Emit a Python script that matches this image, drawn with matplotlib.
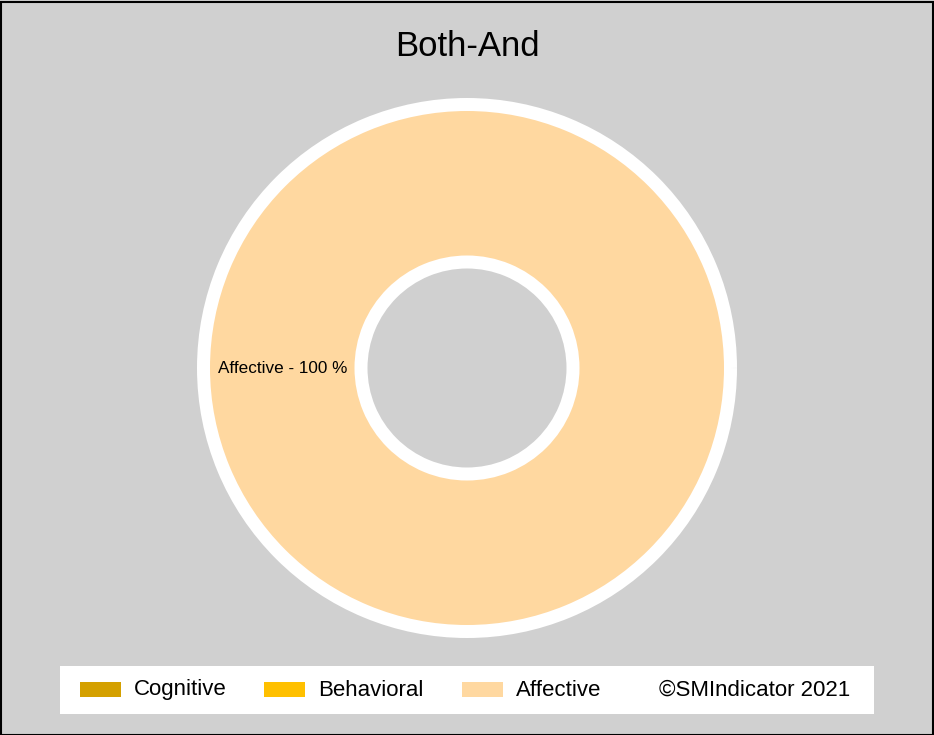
import numpy as np
import matplotlib.pyplot as plt
from matplotlib.patches import Rectangle

# datos del grafico
categorias = ["Cognitive", "Behavioral", "Affective"]
valores = [0, 0, 100]
colores = ["#D4A000", "#FFC000", "#FFD8A0"]
titulo = "Both-And"
copyright_txt = "\u00a9SMIndicator 2021"

plt.rcParams['font.family'] = ['Liberation Sans', 'DejaVu Sans']

W, H = 934, 735
fig = plt.figure(figsize=(W / 100, H / 100), dpi=100, facecolor="#D0D0D0")
ax = fig.add_axes([0, 0, 1, 1])

# solo las porciones con valor > 0
datos = [(c, v, col) for c, v, col in zip(categorias, valores, colores) if v > 0]
total = sum(v for _, v, _ in datos)

cx, cy = 467, 368
r_ext, r_int = 263.5, 106
lw_px = 13
wedges, _ = ax.pie([v for _, v, _ in datos], colors=[col for _, _, col in datos],
                   radius=r_ext, center=(cx, cy), startangle=0,
                   wedgeprops=dict(width=r_ext - r_int, edgecolor="white",
                                   linewidth=lw_px * 72 / 100))

# etiquetas en el centro del anillo
ang = 0
r_mid = (r_ext + r_int) / 2
for c, v, _ in datos:
    frac = v / total * 360
    a = np.deg2rad(ang + frac / 2)
    ax.text(cx + r_mid * np.cos(a), cy - r_mid * np.sin(a),
            f"{c} - {v / total * 100:.0f} %", ha="center", va="center", fontsize=12.3)
    ang += frac

ax.set_xlim(0, W)
ax.set_ylim(H, 0)
ax.set_aspect("equal")
ax.axis("off")

fig.text(0.5, 1 - 47 / H, titulo, ha="center", va="center", fontsize=25, color="black")

# leyenda manual
ax.add_patch(Rectangle((60, 666), 814, 48, facecolor="white", edgecolor="none", zorder=1))
xs_patch = [80, 264, 462]
for x, c, col in zip(xs_patch, categorias, colores):
    ax.add_patch(Rectangle((x, 682), 41, 15, facecolor=col, edgecolor="none", zorder=2))
    ax.text(x + 54, 690, c, ha="left", va="center", fontsize=16, zorder=3)
ax.text(659, 690, copyright_txt, ha="left", va="center", fontsize=16, zorder=3)

# borde de la figura
fig.patches.append(Rectangle((0.5 / W, 0.5 / H), 1 - 2 / W, 1 - 2 / H, transform=fig.transFigure,
                             fill=False, edgecolor="black", linewidth=1.5))

fig.savefig("out.png", dpi=100, facecolor=fig.get_facecolor())
